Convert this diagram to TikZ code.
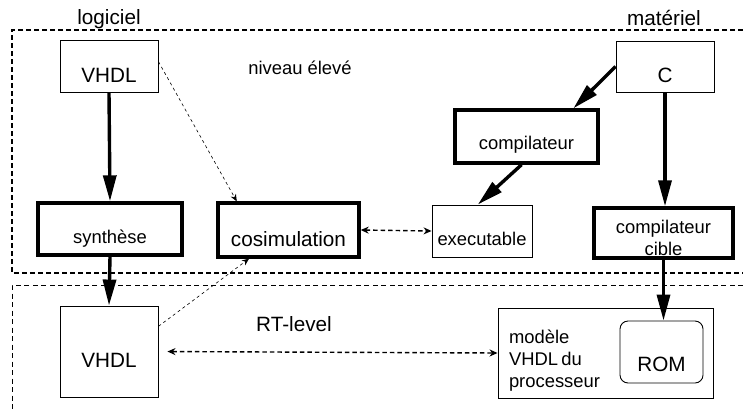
\documentclass[tikz,border=0pt]{standalone}
\usepackage{fontspec}
\setmainfont{Liberation Sans}
\usetikzlibrary{arrows.meta}
\newcommand{\bigtxt}{\fontsize{20.7}{24}\selectfont}
\newcommand{\smalltxt}{\fontsize{18.4}{22}\selectfont}
\tikzset{
  thinbox/.style={draw, line width=0.9pt, inner xsep=0pt, inner ysep=0pt},
  thickbox/.style={draw, line width=3.4pt, inner xsep=0pt, inner ysep=0pt},
  flow/.style={line width=3.4pt, -{Triangle[length=26pt,width=13pt]}},
  exchange/.style={line width=1.4pt, dash pattern=on 4.5pt off 3pt,
    {Stealth[length=8pt,width=7pt]}-{Stealth[length=8pt,width=7pt]}},
  cosimlink/.style={line width=0.6pt, dash pattern=on 3pt off 3pt,
    -{Stealth[length=7pt,width=6pt]}},
  region/.style={line width=1.5pt, dash pattern=on 5pt off 3pt}
}
\begin{document}
\begin{tikzpicture}[x=1pt,y=-1pt]
  \useasboundingbox (0,0) rectangle (743,410);
  % frames
  \draw[region] (743,30) -- (12,30) -- (12,273) -- (743,273);
  \draw[region,line width=0.9pt,dash pattern=on 5pt off 3.5pt] (743,285) -- (12,285) -- (12,410);
  \node[anchor=base] (logiciel) at (109,24) {\bigtxt logiciel};
  \node[anchor=base] (materiel) at (664,25) {\bigtxt matériel};
  \node[anchor=base] (haut) at (300,74) {\smalltxt niveau élevé};
  \node[anchor=base] (rtl) at (294,331) {\bigtxt RT-level};
  % logiciel side
  \node[thinbox, minimum width=98pt, text height=42pt, text depth=10pt] (vhdlA) at (109,66) {\bigtxt VHDL};
  \node[thickbox, minimum width=144pt, text height=40pt, text depth=12pt] (synth) at (110,229) {\smalltxt synthèse};
  \node[thickbox, minimum width=141pt, text height=43pt, text depth=11pt] (cosim) at (288.5,230) {\bigtxt cosimulation};
  \node[thinbox, minimum width=98pt, text height=61pt, text depth=30pt] (vhdlB) at (109,351.5) {\bigtxt VHDL};
  % materiel side
  \node[thinbox, minimum width=98pt, text height=41pt, text depth=10pt] (cbox) at (665,66.5) {\bigtxt C};
  \node[thickbox, minimum width=143pt, text height=39pt, text depth=14pt] (compil) at (526.5,136.5) {\smalltxt compilateur};
  \node[thinbox, minimum width=100pt, text height=40pt, text depth=12pt] (exec) at (482,231) {\smalltxt executable};
  \node[thickbox, minimum width=139pt, text height=47pt, text depth=3pt] (cible) at (663.5,233)
    {\smalltxt\begin{tabular}[b]{@{}c@{}}compilateur\\cible\end{tabular}};
  \node[thinbox, text width=193pt, inner xsep=11pt, align=left, text height=79pt, text depth=11pt] (modele) at (605.5,353)
    {\smalltxt\noindent\begin{tabular}[b]{@{}l@{}}modèle\\VHDL du\\processeur\end{tabular}};
  \node[thinbox, rounded corners=8pt, minimum width=83pt, text height=50pt, text depth=12pt] (rom) at (661.5,352) {\bigtxt ROM};
  % connections
  \draw[flow] (vhdlA.south) -- (synth.north);
  \draw[flow] (synth.south) -- (vhdlB.north);
  \draw[flow] (cbox.west) -- (compil.31);
  \draw[flow] (compil.-100) -- (exec.99);
  \draw[flow] (cbox.south) -- (cbox.south |- cible.north);
  \draw[flow] (cible.south) -- (cible.south |- rom.north);
  \draw[cosimlink] (vhdlA.5) -- (cosim.151);
  \draw[cosimlink] (vhdlB.27) -- (cosim.216);
  \draw[exchange] (cosim.east) -- (exec.west);
  \draw[exchange, shorten <=9pt] (vhdlB.east) -- (modele.west);
\end{tikzpicture}
\end{document}
